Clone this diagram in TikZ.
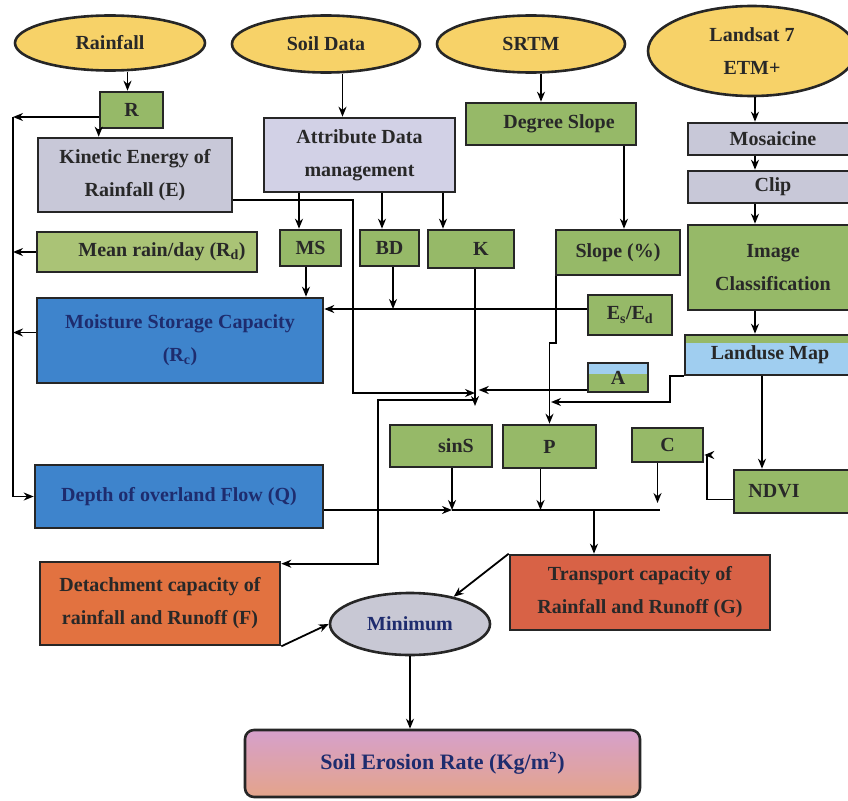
\documentclass[tikz,border=0pt]{standalone}
\usepackage{fontspec}
\setmainfont{Liberation Serif}
\usetikzlibrary{shapes.geometric,arrows.meta}

\definecolor{srcyellow}{RGB}{247,210,104}
\definecolor{boxgreen}{RGB}{150,185,104}
\definecolor{meangreen}{RGB}{170,195,118}
\definecolor{lavender}{RGB}{210,209,230}
\definecolor{greylav}{RGB}{200,200,216}
\definecolor{stoblue}{RGB}{62,132,204}
\definecolor{mapblue}{RGB}{160,206,240}
\definecolor{detorange}{RGB}{226,114,64}
\definecolor{transred}{RGB}{216,98,70}
\definecolor{mingrey}{RGB}{200,200,212}
\definecolor{pinktop}{RGB}{214,160,204}
\definecolor{salmon}{RGB}{228,164,138}
\definecolor{inktext}{RGB}{40,40,40}
\definecolor{navytext}{RGB}{30,44,110}

\tikzset{
  srcnode/.style={ellipse, draw=black!85, line width=2.6pt, fill=srcyellow, inner sep=0pt, align=center},
  boxnode/.style={rectangle, draw=black!85, line width=2.6pt, inner sep=0pt, align=center},
}

\begin{document}
\begin{tikzpicture}[>={Stealth[length=10pt,width=8pt]}, x=1pt, y=-1pt, line width=1.8pt,
    font=\fontsize{20}{33}\selectfont\bfseries, text=inktext]
    \clip (0,0) rectangle (848,800);

    % Data sources
    \node[srcnode, minimum width=190, minimum height=55] (rain) at (110,43) {Rainfall};
    \node[srcnode, minimum width=188, minimum height=57] (soil) at (326,44) {Soil Data};
    \node[srcnode, minimum width=188, minimum height=57] (srtm) at (531,44) {SRTM};
    \node[srcnode, minimum width=208, minimum height=90] (landsat) at (752,51) {Landsat 7\\ETM+};

    % Rainfall branch
    \node[boxnode, fill=boxgreen, minimum width=63, minimum height=36] (r) at (131.5,110) {R};
    \node[boxnode, fill=greylav, minimum width=194, minimum height=74] (kin) at (135,175) {Kinetic Energy of\\Rainfall (E)};
    \node[boxnode, fill=meangreen, minimum width=220, minimum height=40] (mean) at (147,252) {\hspace{30pt}Mean rain/day (R\textsubscript{d})};
    \node[boxnode, fill=stoblue, text=navytext, minimum width=286, minimum height=85] (msc) at (180,340.5) {Moisture Storage Capacity\\(R\textsubscript{c})};
    \node[boxnode, fill=stoblue, text=navytext, minimum width=288, minimum height=63] (q) at (179,496.5) {Depth of overland Flow (Q)};

    % Soil branch
    \node[boxnode, fill=lavender, minimum width=191, minimum height=74] (attr) at (359.5,155) {Attribute Data\\management};
    \node[boxnode, fill=boxgreen, minimum width=61, minimum height=36] (ms) at (310.5,248) {MS};
    \node[boxnode, fill=boxgreen, minimum width=59, minimum height=36] (bd) at (389.5,248) {BD};
    \node[boxnode, fill=boxgreen, minimum width=86, minimum height=38] (k) at (471,249) {\hspace{20pt}K};

    % Slope branch
    \node[boxnode, fill=boxgreen, minimum width=170, minimum height=42] (dslope) at (551,124) {\hspace{16pt}Degree Slope};
    \node[boxnode, fill=boxgreen, minimum width=124, minimum height=45] (slope) at (618,252.5) {Slope (\%)};
    \node[boxnode, fill=boxgreen, minimum width=84, minimum height=40] (esed) at (630,315) {E\textsubscript{s}/E\textsubscript{d}};
    \node[boxnode, fill=boxgreen, minimum width=60, minimum height=29,
        path picture={\fill[mapblue] (path picture bounding box.north west) rectangle ([yshift=-11pt]path picture bounding box.north east);}] (a) at (618,377.5) {A};

    % Landsat branch
    \node[boxnode, fill=greylav, minimum width=170, minimum height=32] (mosaic) at (773,139) {Mosaicine};
    \node[boxnode, fill=greylav, minimum width=170, minimum height=32] (clip) at (773,187) {Clip};
    \node[boxnode, fill=boxgreen, minimum width=170, minimum height=85] (imgc) at (773,267.5) {Image\\Classification};
    \node[boxnode, fill=mapblue, minimum width=170, minimum height=40,
        path picture={\fill[boxgreen] (path picture bounding box.north west) rectangle ([yshift=-8pt]path picture bounding box.north east);}] (landuse) at (770,355) {Landuse Map};
    \node[boxnode, fill=boxgreen, minimum width=130, minimum height=43] (ndvi) at (799,491.5) {NDVI\hspace{50pt}};

    % Factors
    \node[boxnode, fill=boxgreen, minimum width=102, minimum height=42] (sins) at (441,446) {\hspace{30pt}sinS};
    \node[boxnode, fill=boxgreen, minimum width=93, minimum height=43] (p) at (549.5,446.5) {P};
    \node[boxnode, fill=boxgreen, minimum width=71, minimum height=34] (c) at (667.5,445) {C};

    % Capacities and result
    \node[boxnode, fill=detorange, minimum width=240, minimum height=83] (det) at (160,603.5) {Detachment capacity of\\rainfall and Runoff (F)};
    \node[boxnode, fill=transred, minimum width=260, minimum height=75] (trans) at (640,592.5) {Transport capacity of\\Rainfall and Runoff (G)};
    \node[ellipse, draw=black!85, line width=2.6pt, fill=mingrey, text=navytext, minimum width=160, minimum height=62, inner sep=0pt] (minimum) at (410,624) {Minimum};
    \node[boxnode, rounded corners=9pt, top color=pinktop, bottom color=salmon, text=navytext,
        font=\fontsize{22}{26}\selectfont\bfseries, minimum width=395, minimum height=67] (ser) at (442.5,763.5) {Soil Erosion Rate (Kg/m\textsuperscript{2})};

    % Arrows out of the sources
    \draw[->] ([xshift=-4pt]r.north |- rain.south) -- ([xshift=-4pt]r.north);
    \draw[->] ([xshift=-17pt]attr.north |- soil.south) -- ([xshift=-17pt]attr.north);
    \draw[->] ([xshift=-10pt]dslope.north |- srtm.south) -- ([xshift=-10pt]dslope.north);
    \draw[->] ([xshift=-18pt]mosaic.north |- landsat.south) -- ([xshift=-18pt]mosaic.north);
    \draw[->] ([xshift=-18pt]mosaic.south) -- ([xshift=-18pt]clip.north);
    \draw[->] ([xshift=-18pt]clip.south) -- ([xshift=-18pt]imgc.north);
    \draw[->] ([xshift=-18pt]imgc.south) -- ([xshift=-15pt]landuse.north);
    \draw[->] ([xshift=-8pt]landuse.south) -- ([xshift=-8pt]landuse.south |- ndvi.north);

    % Rainfall branch
    \coordinate (ltop) at (13,117);
    \draw[->] ([yshift=-7pt]r.west) -- (ltop);
    \draw[->] (ltop) |- (q.west);
    \draw[->] (mean.west) -- (mean.west -| ltop);
    \draw[->] ([yshift=8pt]msc.west) -- ([yshift=8pt]msc.west -| ltop);
    \draw[->] (r.south west) -- (r.south west |- kin.north);

    % Soil branch
    \draw[->] ([xshift=-11.5pt]ms.north |- attr.south) -- ([xshift=-11.5pt]ms.north);
    \draw[->] ([xshift=-7.5pt]bd.north |- attr.south) -- ([xshift=-7.5pt]bd.north);
    \draw[->] ([xshift=-28pt]k.north |- attr.south) -- ([xshift=-28pt]k.north);
    \draw[->] ([xshift=-4.5pt]ms.south) -- ([xshift=-4.5pt]ms.south |- msc.north);
    \draw[->] ([yshift=6pt]esed.west) -- ([yshift=6pt]esed.west -| msc.east);
    \draw[->] ([xshift=3.5pt]bd.south) -- ([xshift=3.5pt,yshift=6pt]bd.south |- esed.west);

    % Junction for the detachment capacity
    \coordinate (jf) at (475,398);
    \draw[->] ([yshift=-25pt]kin.east) -- ++(120,0) |- ([yshift=5pt]jf);
    \draw[->] (k.south -| jf) -- ([yshift=-8pt]jf);
    \draw[->] ([yshift=-12.5pt]a.west) -- ++(-108,0);
    \draw[->] ([yshift=-2pt]jf) -- ++(-97,0) |- ([yshift=-3pt]det.north east);

    % Slope branch
    \coordinate (jp) at (551,402);
    \draw[->] ([xshift=73pt]dslope.south) -- ([xshift=73pt]dslope.south |- slope.north);
    \draw[->] ([xshift=-62pt]slope.south) -- ++(0,67) -| (p.north);
    \draw[->] ([yshift=-21pt]landuse.west) -- ++(-14,0) |- (jp);
    \draw[->] ([yshift=-8pt]ndvi.west) -- ++(-26,0) |- ([yshift=-10pt]c.east);

    % Bus to the transport capacity
    \coordinate (busend) at (660,510);
    \coordinate (tap) at (594,510);
    \draw[->] ([yshift=-13.5pt]q.east) -- ([xshift=11pt]sins.south |- busend);
    \draw ([xshift=11pt]sins.south |- busend) -- (busend);
    \draw[->] ([xshift=11pt]sins.south) -- ([xshift=11pt]sins.south |- busend);
    \draw[->] ([xshift=-9pt]p.south) -- ([xshift=-9pt]p.south |- busend);
    \draw[->] ([xshift=-10pt]c.south) -- ([xshift=-10pt,yshift=7pt]c.south |- busend);
    \draw[->] (tap) -- (tap |- trans.north);

    % Minimum and result
    \draw[->] (trans.north west) -- (minimum.32);
    \draw[->] (det.south east) -- (minimum.west);
    \draw[->] (minimum.south) -- (minimum.south |- ser.north);

\end{tikzpicture}
\end{document}
